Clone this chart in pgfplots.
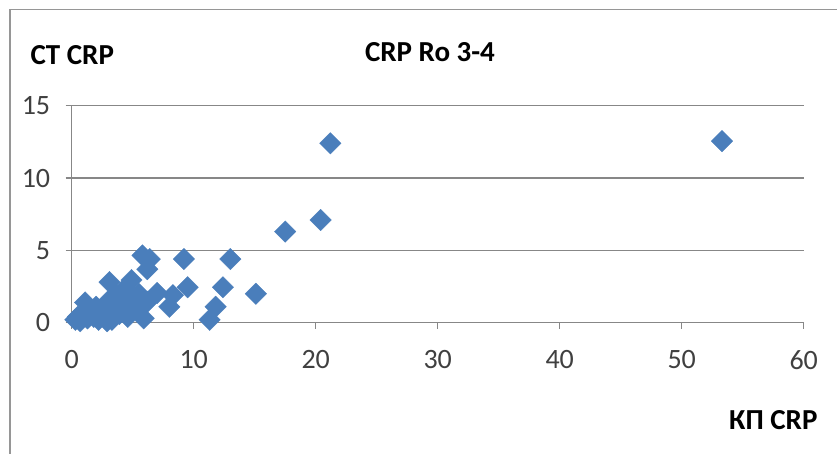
\documentclass[border=0pt]{standalone}
\usepackage{pgfplots}
\pgfplotsset{compat=1.18}
\usepackage{fontspec}
\setmainfont{Carlito}

\definecolor{markblue}{HTML}{4A7EBB}
\definecolor{gridgray}{HTML}{878787}
\definecolor{framegray}{HTML}{969696}
\definecolor{ticktext}{HTML}{404040}

\begin{document}
\begin{tikzpicture}[x=1pt,y=1pt]
\useasboundingbox (0,0) rectangle (837,454);
% chart frame (top and left edges)
\draw[framegray, line width=1.6pt] (10,0) -- (10,444.5) -- (837,444.5);

\begin{axis}[
  at={(71.7pt,131.3pt)}, anchor=south west,
  scale only axis, width=732pt, height=217pt,
  xmin=0, xmax=60, ymin=0, ymax=15,
  xtick={0,10,...,60}, ytick={0,5,10,15},
  axis x line=bottom, axis y line=left,
  axis line style={gridgray, line width=1.5pt, -},
  ymajorgrids, grid style={gridgray, line width=1.5pt},
  tick align=outside, major tick length=6pt,
  tick style={gridgray, line width=1.5pt},
  ticklabel style={font=\fontsize{28}{30}\selectfont, text=ticktext},
  /pgf/number format/assume math mode=true,
  xticklabel style={yshift=-18pt},
  yticklabel style={anchor=east, xshift=-12pt},
  clip=false,
]
\addplot[only marks, mark=square*, mark size=7.6pt,
  mark options={rotate=45, fill=markblue, draw=markblue, line width=0.3pt}]
  coordinates {
  (0.3,0.2) (0.5,0.4) (0.7,0.1) (1.0,0.6) (1.1,1.4) (1.3,0.3)
  (1.6,0.8) (1.8,0.4) (2.0,1.1) (2.2,0.2) (2.5,0.7) (2.6,1.0)
  (2.9,0.1) (3.0,1.5) (3.1,2.8) (3.3,0.2) (3.5,1.2) (3.7,1.9)
  (3.9,0.6) (4.1,1.2) (4.4,2.4) (4.6,0.4) (4.8,1.6) (4.9,2.95)
  (5.2,1.0) (5.5,2.0) (5.6,1.7) (5.8,4.65) (5.9,0.3) (6.2,3.7)
  (6.2,1.45) (6.4,4.4) (7.0,2.05) (8.0,1.1) (8.3,1.9) (9.2,4.4)
  (9.5,2.45) (11.3,0.2) (11.8,1.1) (12.4,2.45) (13.0,4.4) (15.1,2.0)
  (17.5,6.3) (20.4,7.1) (21.2,12.4) (53.3,12.55)
  };
\end{axis}

\node[anchor=west, font=\fontsize{29}{31}\selectfont\bfseries] at (27,399) {CT CRP};
\node[font=\fontsize{29}{31}\selectfont\bfseries] at (430,402) {CRP Ro 3-4};
\node[anchor=east, font=\fontsize{29}{31}\selectfont\bfseries] at (821,34) {КП CRP};
\end{tikzpicture}
\end{document}
